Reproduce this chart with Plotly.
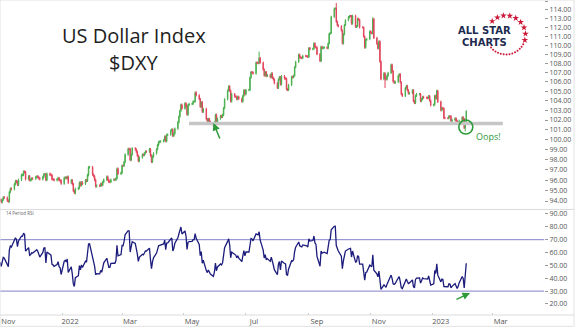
import numpy as np
import pandas as pd
import plotly.graph_objects as go

# ---------------- data (daily closes, read/estimated) ----------------
month_starts = ["2021-10-01", "2021-11-01", "2021-12-01", "2022-01-01", "2022-02-01",
                "2022-03-01", "2022-04-01", "2022-05-01", "2022-06-01", "2022-07-01",
                "2022-08-01", "2022-09-01", "2022-10-01", "2022-11-01", "2022-12-01",
                "2023-01-01", "2023-02-01"]

close_2021_10 = [94.04, 93.83, 93.99, 94.26, 94.22, 94.09, 94.31, 94.51, 93.96, 93.96, 94.08,
                 93.95, 93.56, 93.56, 93.78, 93.64, 93.95, 93.95, 93.80, 93.34, 94.12]
close_2021_11 = [94.07, 93.90, 94.14, 94.35, 94.32, 94.04, 93.96, 94.86, 95.18, 95.13, 95.62,
                 95.91, 95.84, 95.56, 96.03, 96.50, 96.51, 96.83, 96.78, 96.09, 96.37, 95.99]
close_2021_12 = [96.04, 96.16, 96.15, 96.28, 96.36, 96.30, 96.18, 96.09, 96.32, 96.57, 96.58,
                 96.02, 96.62, 96.53, 96.49, 96.09, 96.07, 96.00, 96.08, 96.20, 96.00, 95.96, 95.67]
close_2022_01 = [96.21, 96.26, 96.19, 96.32, 95.75, 95.99, 95.62, 94.98, 94.78, 95.16, 95.25,
                 95.76, 95.51, 95.78, 95.64, 95.99, 95.94, 96.49, 97.25, 97.27, 96.54]
close_2022_02 = [96.37, 96.02, 95.40, 95.47, 95.45, 95.64, 95.52, 95.82, 96.05, 96.33, 96.02,
                 95.83, 95.83, 96.04, 96.05, 96.04, 96.17, 97.11, 96.62, 96.71]
close_2022_03 = [97.41, 97.40, 97.78, 98.51, 99.07, 99.06, 97.97, 98.51, 99.13, 99.03, 98.80,
                 98.40, 97.87, 98.22, 98.50, 98.46, 98.63, 98.81, 98.80, 99.04, 98.41, 97.80, 98.31]
close_2022_04 = [98.62, 99.03, 99.46, 99.76, 99.80, 99.83, 99.94, 100.31, 99.85, 100.49, 100.51,
                 100.92, 101.03, 100.38, 100.62, 101.12, 101.77, 102.35, 102.96, 103.58, 103.19]
close_2022_05 = [103.73, 103.44, 102.56, 103.55, 103.66, 103.68, 103.92, 103.92, 104.85, 104.57,
                 104.18, 103.38, 103.84, 102.84, 103.15, 102.09, 101.86, 102.10, 101.81, 101.67,
                 101.43, 101.76]
close_2022_06 = [102.54, 101.79, 102.14, 102.42, 102.33, 102.53, 103.23, 104.15, 105.08, 105.52,
                 105.07, 103.93, 104.70, 104.45, 104.42, 104.17, 104.41, 104.21, 103.92, 104.52,
                 105.10, 104.69]
close_2022_07 = [105.13, 105.13, 106.46, 107.05, 107.01, 106.89, 108.08, 108.05, 108.02, 108.58,
                 108.07, 107.33, 106.68, 107.05, 106.62, 106.73, 106.50, 106.91, 106.44, 106.26,
                 105.85]
close_2022_08 = [105.36, 106.26, 106.51, 105.73, 106.61, 106.37, 106.34, 105.21, 105.14, 105.67,
                 106.54, 106.49, 106.66, 107.58, 108.16, 108.95, 108.66, 108.61, 108.57, 108.82,
                 108.78, 108.77, 108.70]
close_2022_09 = [109.67, 109.54, 109.60, 110.19, 109.81, 109.73, 109.00, 108.25, 109.81, 109.65,
                 109.70, 109.76, 109.66, 110.19, 111.26, 111.36, 113.19, 114.11, 114.15, 112.63,
                 112.22, 112.12]
close_2022_10 = [111.63, 110.19, 111.21, 112.24, 112.79, 113.15, 113.27, 113.26, 112.41, 113.31,
                 112.04, 112.12, 112.96, 112.85, 111.98, 111.98, 110.96, 109.73, 110.59, 110.67,
                 111.53]
close_2022_11 = [111.37, 111.32, 112.93, 110.80, 110.16, 109.64, 110.41, 108.19, 106.29, 106.92,
                 106.37, 106.27, 106.67, 106.96, 107.84, 107.15, 106.05, 105.90, 106.01, 106.65,
                 106.81, 105.95]
close_2022_12 = [104.70, 104.51, 105.33, 105.56, 105.11, 104.76, 104.82, 105.10, 103.96, 103.77,
                 104.53, 104.69, 104.70, 103.97, 104.17, 104.40, 104.32, 104.32, 104.28, 104.49,
                 104.02, 103.52]
close_2023_01 = [103.60, 104.52, 104.25, 105.04, 103.89, 103.01, 103.24, 103.19, 102.21, 102.20,
                 102.19, 102.39, 102.37, 101.91, 102.00, 102.16, 101.91, 101.63, 101.73, 101.92,
                 102.27, 102.10]
close_2023_02 = [101.20, 101.75, 102.92]

monthly_closes = [close_2021_10, close_2021_11, close_2021_12, close_2022_01, close_2022_02,
                  close_2022_03, close_2022_04, close_2022_05, close_2022_06, close_2022_07,
                  close_2022_08, close_2022_09, close_2022_10, close_2022_11, close_2022_12,
                  close_2023_01, close_2023_02]

# notable intraday extremes
high_dates = ["2022-05-13", "2022-07-14", "2022-09-28", "2022-11-03", "2023-02-03"]
high_vals = [105.01, 109.29, 114.78, 113.15, 103.00]
low_dates = ["2022-01-14", "2022-05-30", "2022-11-15", "2023-02-02"]
low_vals = [94.63, 101.30, 105.34, 100.82]

# annotation data
support_level = 101.65
support_start, support_end = "2022-05-06", "2023-03-11"

x_tick_vals = ["2021-11-01", "2022-01-01", "2022-03-01", "2022-05-01", "2022-07-01",
               "2022-09-01", "2022-11-01", "2023-01-01", "2023-03-01"]
x_tick_text = ["Nov", "2022", "Mar", "May", "Jul", "Sep", "Nov", "2023", "Mar"]
price_ticks = list(range(93, 116))
rsi_ticks = [20, 30, 40, 50, 60, 70, 80, 90]

# ---------------- build OHLC ----------------
dates, closes = [], []
for ms, vals in zip(month_starts, monthly_closes):
    st = pd.Timestamp(ms)
    days = pd.bdate_range(st, st + pd.offsets.MonthEnd(0))
    dates.extend(list(days[:len(vals)]))
    closes.extend(vals)
dates = pd.DatetimeIndex(dates)
closes = np.array(closes, dtype=float)
opens = np.concatenate([[closes[0]], closes[:-1]])
wick = 0.12
highs = np.maximum(opens, closes) + wick
lows = np.minimum(opens, closes) - wick
for d, v in zip(high_dates, high_vals):
    highs[dates == pd.Timestamp(d)] = v
for d, v in zip(low_dates, low_vals):
    lows[dates == pd.Timestamp(d)] = v

# 14-period Wilder RSI
n = 14
delta = np.diff(closes)
gain = np.clip(delta, 0, None)
loss = np.clip(-delta, 0, None)
rsi = np.full(len(closes), np.nan)
ag, al = gain[:n].mean(), loss[:n].mean()
rsi[n] = 100 - 100 / (1 + ag / al)
for i in range(n + 1, len(closes)):
    ag = (ag * (n - 1) + gain[i - 1]) / n
    al = (al * (n - 1) + loss[i - 1]) / n
    rsi[i] = 100 - 100 / (1 + ag / al)

# ---------------- figure ----------------
GREEN = "#2f9a3a"
x_range = ["2021-10-31 19:00", "2023-04-20 14:00"]

fig = go.Figure()
fig.add_trace(go.Scatter(x=[support_start, support_end], y=[support_level, support_level],
                         mode="lines", line=dict(color="#c6c6c6", width=3.5),
                         xaxis="x", yaxis="y", hoverinfo="skip"))
fig.add_trace(go.Candlestick(x=dates, open=opens, high=highs, low=lows, close=closes,
                             increasing=dict(line=dict(color="#4cb050", width=1), fillcolor="#4cb050"),
                             decreasing=dict(line=dict(color="#e2455c", width=1), fillcolor="#e2455c"),
                             xaxis="x", yaxis="y"))
fig.add_trace(go.Scatter(x=["2023-02-02 14:00"], y=[101.28], mode="markers",
                         marker=dict(symbol="circle-open", size=14, line=dict(color=GREEN, width=1.6),
                                     color=GREEN),
                         xaxis="x", yaxis="y"))
fig.add_trace(go.Scatter(x=dates, y=rsi, mode="lines", line=dict(color="#1c1c7c", width=1.3),
                         xaxis="x2", yaxis="y2"))

# logo decoration (pixel overlay axes)
cx, cy, r = 506, 35, 19.5
star_ang = np.radians(np.linspace(135, -15, 9))
dot_ang = np.radians(np.linspace(-28, -140, 14))
fig.add_trace(go.Scatter(x=cx + r * np.cos(star_ang), y=cy - r * np.sin(star_ang), mode="markers",
                         marker=dict(symbol="star", size=5, color="#cc1636"),
                         xaxis="x3", yaxis="y3"))
fig.add_trace(go.Scatter(x=cx + r * np.cos(dot_ang), y=cy - r * np.sin(dot_ang), mode="markers",
                         marker=dict(symbol="circle", size=2, color="#cc1636"),
                         xaxis="x3", yaxis="y3"))

axis_common = dict(showgrid=False, zeroline=False, showline=False)
tickfont = dict(family="Open Sans", size=7, color="#555")
fig.update_layout(
    width=576, height=328, margin=dict(l=0, r=32, t=0, b=13),
    paper_bgcolor="white", plot_bgcolor="rgba(0,0,0,0)", showlegend=False,
    xaxis=dict(domain=[0, 1], anchor="y", range=x_range, showticklabels=False,
               rangeslider=dict(visible=False), matches="x2", **axis_common),
    yaxis=dict(domain=[0.3365, 1], anchor="x", type="log", range=[1.96964, 2.06115], side="right",
               tickvals=price_ticks, ticktext=[f"{v:.2f}" for v in price_ticks],
               ticks="outside", ticklen=3, tickcolor="#999", tickfont=tickfont, **axis_common),
    xaxis2=dict(domain=[0, 1], anchor="y2", range=x_range, tickvals=x_tick_vals,
                ticktext=x_tick_text, ticks="inside", ticklen=2, tickcolor="#ccc",
                ticklabelshift=8, tickfont=dict(family="Open Sans", size=7.5, color="#555"),
                **axis_common),
    yaxis2=dict(domain=[0, 0.3333], anchor="x2", range=[11.4, 93.1], side="right",
                tickvals=rsi_ticks, ticktext=[f"{v:.2f}" for v in rsi_ticks],
                ticks="outside", ticklen=3, tickcolor="#999", tickfont=tickfont, **axis_common),
    xaxis3=dict(domain=[0, 1], anchor="y3", range=[0, 544], visible=False),
    yaxis3=dict(domain=[0, 1], anchor="x3", range=[315, 0], visible=False),
)

W = 574 / 544
fig.add_shape(type="rect", xref="paper", yref="paper", x0=0, x1=W, y0=-0.036, y1=1,
              line=dict(color="#e2e2e2", width=1))
fig.add_shape(type="line", xref="paper", yref="paper", x0=0, x1=W, y0=0.335, y1=0.335,
              line=dict(color="#dcdcdc", width=1))
fig.add_shape(type="line", xref="paper", yref="paper", x0=0, x1=W, y0=0, y1=0,
              line=dict(color="#dcdcdc", width=1))
for lvl in (70, 30):
    fig.add_shape(type="line", xref="paper", yref="y2", x0=0, x1=1, y0=lvl, y1=lvl,
                  line=dict(color="#9a9ad2", width=1.3), layer="below")

ann = []
ann.append(dict(xref="x3", yref="y3", x=134, y=35, text="US Dollar Index", showarrow=False,
                font=dict(family="Open Sans", size=20, color="#1e1e1e"), xanchor="center", yanchor="middle"))
ann.append(dict(xref="x3", yref="y3", x=134, y=62, text="$DXY", showarrow=False,
                font=dict(family="Open Sans", size=20, color="#1e1e1e"), xanchor="center", yanchor="middle"))
ann.append(dict(xref="x3", yref="y3", x=484, y=30.5, text="<b>ALL STAR</b>", showarrow=False,
                font=dict(family="DejaVu Sans", size=10, color="#1d2b4f"), xanchor="center", yanchor="middle"))
ann.append(dict(xref="x3", yref="y3", x=484, y=42.5, text="<b>CHARTS</b>", showarrow=False,
                font=dict(family="DejaVu Sans", size=10, color="#1d2b4f"), xanchor="center", yanchor="middle"))
ann.append(dict(xref="x3", yref="y3", x=4, y=213, text="14 Period RSI", showarrow=False,
                font=dict(family="Open Sans", size=4.5, color="#666"), xanchor="left", yanchor="middle"))
ann.append(dict(xref="x3", yref="y3", x=571, y=160, text="‹", showarrow=False,
                font=dict(family="Open Sans", size=8, color="#999"), xanchor="center", yanchor="middle"))
ann.append(dict(xref="x3", yref="y3", x=573, y=323.5, text="(c)StockCharts.com", showarrow=False,
                font=dict(family="Open Sans", size=3.5, color="#777"), xanchor="right", yanchor="middle"))
ann.append(dict(xref="x", yref="y", x="2023-02-11", y=np.log10(100.27), text="Oops!", showarrow=False,
                font=dict(family="Open Sans", size=9, color=GREEN), xanchor="left", yanchor="middle"))
ann.append(dict(xref="x", yref="y", x="2022-05-30", y=np.log10(101.7), text="", showarrow=True,
                ax=7, ay=17, arrowhead=2, arrowsize=1, arrowwidth=1.5, arrowcolor=GREEN))
ann.append(dict(xref="x2", yref="y2", x="2023-02-06 16:00", y=28.5, text="", showarrow=True,
                ax=-15, ay=7, arrowhead=2, arrowsize=1, arrowwidth=1.5, arrowcolor=GREEN))
fig.update_layout(annotations=ann)

fig.write_html("out.html")
